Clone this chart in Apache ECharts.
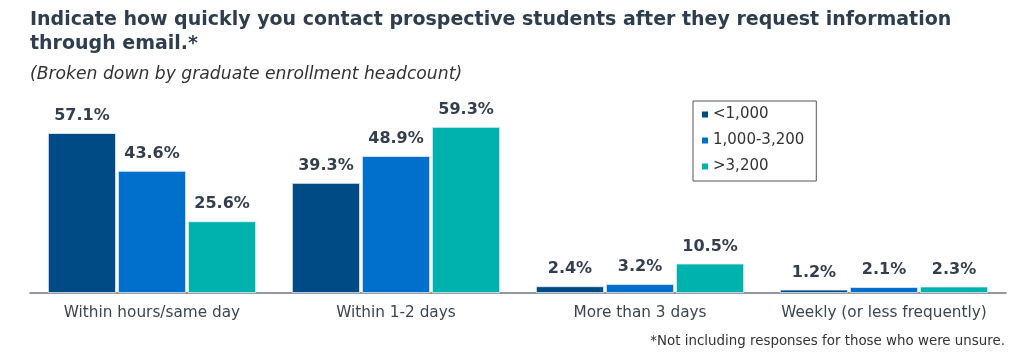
<!DOCTYPE html>
<html><head><meta charset="utf-8">
<script src="https://cdn.jsdelivr.net/npm/echarts@6/dist/echarts.min.js"></script>
<style>html,body{margin:0;padding:0;background:#fff}#c{width:1024px;height:358px}</style>
</head><body><div id="c"></div>
<script>
const categories = ["Within hours/same day", "Within 1-2 days", "More than 3 days", "Weekly (or less frequently)"];
const seriesNames = ["<1,000", "1,000-3,200", ">3,200"];
const small = [57.1, 39.3, 2.4, 1.2];
const medium = [43.6, 48.9, 3.2, 2.1];
const large = [25.6, 59.3, 10.5, 2.3];
const colors = ["#004a86", "#0070cc", "#00b2ae"];
const FONT = "'DejaVu Sans', Verdana, sans-serif";
const chart = echarts.init(document.getElementById('c'));
const mk = (name, data, color) => ({
  name, type: 'bar', data, barWidth: 68, barGap: '3%',
  itemStyle: { color, borderColor: '#e6eef6', borderWidth: 0.8 },
  label: { show: true, position: 'top', distance: 9, formatter: p => p.value.toFixed(1) + '%',
    color: '#333f4f', fontWeight: 'bold', fontSize: 16, fontFamily: FONT }
});
chart.setOption({
  animation: false,
  title: [
    { text: "Indicate how quickly you contact prospective students after they request information\nthrough email.*", left: 25, top: 3,
      textStyle: { fontFamily: FONT, fontWeight: 'bold', fontSize: 19, color: '#2f3e4e', lineHeight: 24 } },
    { text: "(Broken down by graduate enrollment headcount)", left: 25, top: 61,
      textStyle: { fontFamily: FONT, fontStyle: 'italic', fontWeight: 'normal', fontSize: 17.2, color: '#333' } },
    { text: "*Not including responses for those who were unsure.", right: 14, top: 330,
      textStyle: { fontFamily: FONT, fontWeight: 'normal', fontSize: 13.4, color: '#333' } }
  ],
  legend: {
    orient: 'vertical', left: 693, top: 101,
    data: seriesNames, icon: 'rect', itemWidth: 6, itemHeight: 6, itemGap: 11,
    itemStyle: { borderWidth: 0 },
    borderColor: '#555', borderWidth: 1, padding: [6, 12, 7, 9],
    textStyle: { fontFamily: FONT, fontSize: 15, color: '#333' }
  },
  grid: { left: 30, right: 18, top: 125, bottom: 65 },
  xAxis: {
    type: 'category', data: categories,
    axisLine: { lineStyle: { color: '#6f7780', width: 1.5 } },
    axisTick: { show: false },
    axisLabel: { interval: 0, fontFamily: FONT, fontSize: 15.3, color: '#3b4552', margin: 13 }
  },
  yAxis: { type: 'value', min: 0, max: 60, show: false, splitLine: { show: false } },
  series: [mk(seriesNames[0], small, colors[0]), mk(seriesNames[1], medium, colors[1]), mk(seriesNames[2], large, colors[2])]
});
</script></body></html>
